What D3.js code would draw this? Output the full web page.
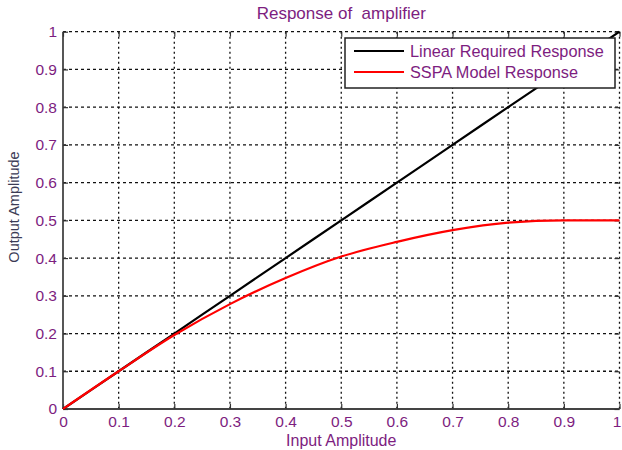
<!DOCTYPE html>
<html><head><meta charset="utf-8">
<script src="https://cdn.jsdelivr.net/npm/d3@7"></script>
<style>body{margin:0;background:#fff}svg{display:block}text{font-family:Arial,"Liberation Sans",sans-serif}</style>
</head><body>
<svg id="c" width="622" height="450"></svg>
<script>
const xValues = [0, 0.1, 0.2, 0.3, 0.4, 0.5, 0.6, 0.7, 0.8, 0.9, 1.0];
const linearResponse = [0, 0.1, 0.2, 0.3, 0.4, 0.5, 0.6, 0.7, 0.8, 0.9, 1.0];
const sspaResponse = [0, 0.1, 0.196, 0.278, 0.347, 0.404, 0.443, 0.474, 0.494, 0.5, 0.5];
const xTicks = [0, 0.1, 0.2, 0.3, 0.4, 0.5, 0.6, 0.7, 0.8, 0.9, 1];
const yTicks = [0, 0.1, 0.2, 0.3, 0.4, 0.5, 0.6, 0.7, 0.8, 0.9, 1];
const seriesNames = ["Linear Required Response", "SSPA Model Response"];
const seriesColors = ["#000000", "#ff0000"];

const svg = d3.select("#c");
const L = 63, R = 619.5, T = 31.7, B = 409;
const x = d3.scaleLinear().domain([0, 1]).range([L, R]);
const y = d3.scaleLinear().domain([0, 1]).range([B, T]);
const purple = "#7d1d80";

// grid
const g = svg.append("g");
g.selectAll(".vg").data(xTicks.filter(d => d > 0)).enter().append("line")
  .attr("x1", d => x(d)).attr("x2", d => x(d)).attr("y1", T).attr("y2", B)
  .attr("stroke", "#111").attr("stroke-width", 1.3).attr("stroke-dasharray", "2,3");
g.selectAll(".hg").data(yTicks.filter(d => d > 0)).enter().append("line")
  .attr("y1", d => y(d)).attr("y2", d => y(d)).attr("x1", L).attr("x2", R)
  .attr("stroke", "#111").attr("stroke-width", 1.3).attr("stroke-dasharray", "3,3");

// axes
const xAxis = d3.axisBottom(x).tickValues(xTicks).tickSize(-5).tickPadding(7).tickFormat(d3.format("~g"));
const yAxis = d3.axisLeft(y).tickValues(yTicks).tickSize(-5).tickPadding(6).tickFormat(d3.format("~g"));
const xa = svg.append("g").attr("transform", `translate(0,${B})`).call(xAxis);
const ya = svg.append("g").attr("transform", `translate(${L},0)`).call(yAxis);
const xTop = d3.axisTop(x).tickValues(xTicks).tickSize(-5).tickFormat("");
const yRight = d3.axisRight(y).tickValues(yTicks).tickSize(-5).tickFormat("");
const xt = svg.append("g").attr("transform", `translate(0,${T})`).call(xTop);
const yr = svg.append("g").attr("transform", `translate(${R},0)`).call(yRight);
[xt, yr].forEach(a => { a.select(".domain").remove(); a.selectAll("line").attr("stroke", "#333").attr("stroke-width", 1.2); });
[xa, ya].forEach(a => {
  a.select(".domain").attr("stroke", "#444").attr("stroke-width", 1.8);
  a.selectAll("line").attr("stroke", "#333").attr("stroke-width", 1.2);
  a.selectAll("text").attr("fill", purple).attr("font-size", "15.5px").attr("font-family", "Arial, 'Liberation Sans', sans-serif");
});
xa.selectAll(".tick text").filter(d => d === 1).attr("dx", "-3");
ya.select(".domain").attr("d", `M0,${B}V${T}`);
xa.select(".domain").attr("d", `M${L},0H${R}`);

// lines
const data = [linearResponse, sspaResponse];
const line = d3.line().x((d, i) => x(xValues[i])).y(d => y(d)).curve(d3.curveMonotoneX);
svg.append("g").selectAll("path").data(data).enter().append("path")
  .attr("d", line).attr("fill", "none")
  .attr("stroke", (d, i) => seriesColors[i]).attr("stroke-width", 2.2);

// legend
const lg = svg.append("g");
lg.append("rect").attr("x", 345).attr("y", 38).attr("width", 270).attr("height", 50)
  .attr("fill", "#fff").attr("stroke", "#222").attr("stroke-width", 1.5);
seriesNames.forEach((n, i) => {
  const yy = 51 + i * 21;
  lg.append("line").attr("x1", 354).attr("x2", 404).attr("y1", yy).attr("y2", yy)
    .attr("stroke", seriesColors[i]).attr("stroke-width", 2.2);
  lg.append("text").attr("x", 410).attr("y", yy + 6).text(n)
    .attr("fill", purple).attr("font-size", "16.3px");
});

// titles
svg.append("text").attr("x", (L + R) / 2).attr("y", 19).attr("text-anchor", "middle")
  .attr("fill", purple).attr("font-size", "17px").text("Response of  amplifier").style("white-space", "pre");
svg.append("text").attr("x", (L + R) / 2).attr("y", 446).attr("text-anchor", "middle")
  .attr("fill", purple).attr("font-size", "16px").text("Input Amplitude");
svg.append("text").attr("transform", `translate(19,207) rotate(-90)`).attr("text-anchor", "middle")
  .attr("fill", "#3b3b55").attr("font-size", "14.5px").text("Output Amplitude");
</script>
</body></html>
